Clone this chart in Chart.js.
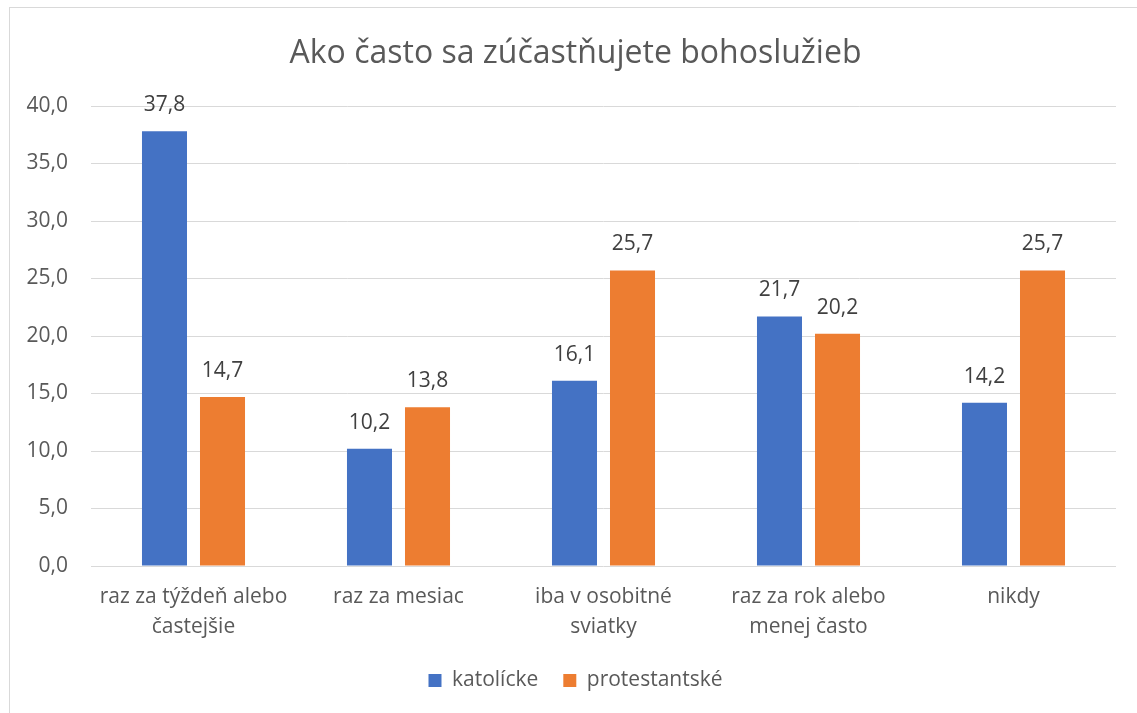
<!DOCTYPE html>
<html>
<head>
<meta charset="utf-8">
<script src="https://cdn.jsdelivr.net/npm/chart.js@4.4.1/dist/chart.umd.min.js"></script>
<style>
  html, body { margin: 0; padding: 0; background: #fff; overflow: hidden; width: 1137px; height: 713px; }
  #frame { position: absolute; left: 9px; top: 7px; border: 1px solid #d9d9d9; width: 1131px; height: 720px; }
  canvas { display: block; }
</style>
</head>
<body>
<div id="frame"><canvas id="c" width="1131" height="720"></canvas></div>
<script>
const titleText = "Ako často sa zúčastňujete bohoslužieb";
const categories = [
  ["raz za týždeň alebo", "častejšie"],
  "raz za mesiac",
  ["iba v osobitné", "sviatky"],
  ["raz za rok alebo", "menej často"],
  "nikdy"
];
const seriesNames = ["katolícke", "protestantské"];
const katolicke = [37.8, 10.2, 16.1, 21.7, 14.2];
const protestantske = [14.7, 13.8, 25.7, 20.2, 25.7];
const yMin = 0, yMax = 40, yStep = 5;

const FONT = "'Open Sans', 'DejaVu Sans', sans-serif";
const fmt = v => Number(v).toFixed(1).replace('.', ',');

const dataLabels = {
  id: 'dataLabels',
  afterDatasetsDraw(chart) {
    const ctx = chart.ctx;
    ctx.save();
    ctx.font = "21px " + FONT;
    ctx.fillStyle = "#404040";
    ctx.textAlign = "center";
    ctx.textBaseline = "middle";
    chart.data.datasets.forEach((ds, i) => {
      const meta = chart.getDatasetMeta(i);
      meta.data.forEach((bar, j) => {
        ctx.fillText(fmt(ds.data[j]), bar.x, bar.y - 26);
      });
    });
    ctx.restore();
  }
};

new Chart(document.getElementById('c'), {
  type: 'bar',
  data: {
    labels: categories,
    datasets: [
      { label: seriesNames[0], data: katolicke, backgroundColor: '#4472C4', categoryPercentage: 0.566, barPercentage: 0.776 },
      { label: seriesNames[1], data: protestantske, backgroundColor: '#ED7D31', categoryPercentage: 0.566, barPercentage: 0.776 }
    ]
  },
  options: {
    responsive: false,
    animation: false,
    devicePixelRatio: 1,
    layout: { padding: { left: 0, right: 0, top: 0, bottom: 27 } },
    plugins: {
      title: {
        display: true,
        text: titleText,
        color: '#595959',
        font: { family: FONT, size: 32, weight: 'normal', lineHeight: 1.2 },
        padding: { top: 27, bottom: 32.6 }
      },
      legend: {
        position: 'bottom',
        labels: {
          boxWidth: 13, boxHeight: 13, padding: 25,
          color: '#595959',
          font: { family: FONT, size: 21 }
        }
      },
      tooltip: { enabled: false }
    },
    scales: {
      x: {
        grid: { display: false, drawTicks: false },
        border: { display: false },
        ticks: {
          color: '#595959', padding: 16, maxRotation: 0, autoSkip: false,
          font: { family: FONT, size: 21, lineHeight: 1.43 }
        },
        afterFit(s) { s.height = 79; }
      },
      y: {
        min: yMin, max: yMax,
        grid: { color: '#d9d9d9', lineWidth: 1, drawTicks: false },
        border: { display: false },
        ticks: {
          stepSize: yStep, padding: 23, color: '#595959',
          font: { family: FONT, size: 21 },
          callback: v => fmt(v)
        },
        afterFit(s) { s.width = 81; }
      },
      y2: {
        position: 'right',
        display: true,
        grid: { display: false, drawTicks: false },
        border: { display: false },
        ticks: { display: false },
        afterFit(s) { s.width = 25; }
      }
    }
  },
  plugins: [dataLabels]
});
</script>
</body>
</html>
